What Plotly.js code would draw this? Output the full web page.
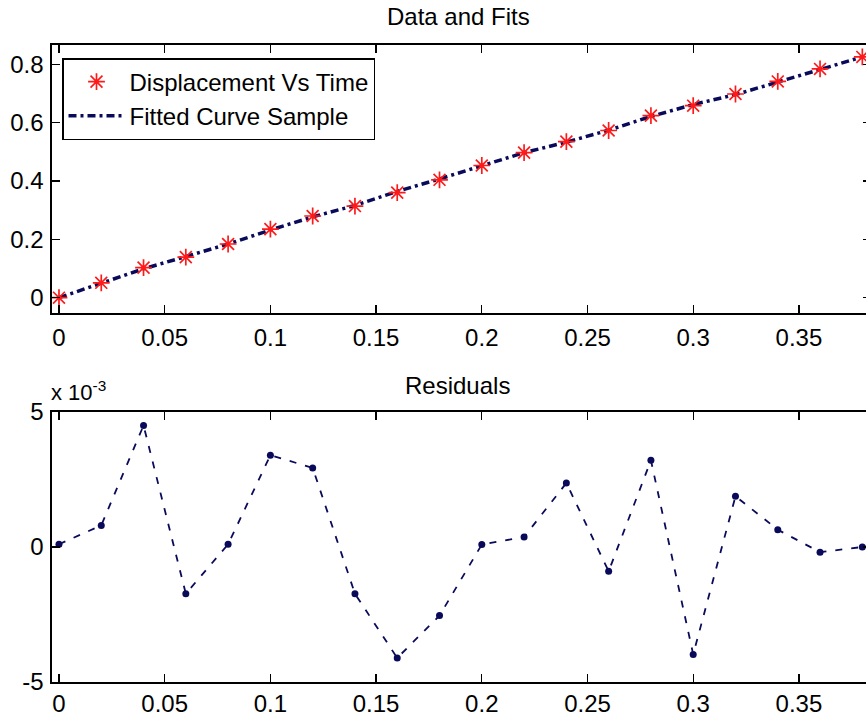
<!DOCTYPE html>
<html>
<head>
<meta charset="utf-8">
<script src="https://cdn.plot.ly/plotly-3.0.1.min.js"></script>
<style>
html,body{margin:0;padding:0;overflow:hidden;background:#fff;width:866px;height:716px;}
#chart{width:872px;height:716px;}
</style>
</head>
<body>
<div id="chart"></div>
<script>
// Data
const time = [0, 0.02, 0.04, 0.06, 0.08, 0.10, 0.12, 0.14, 0.16, 0.18, 0.20, 0.22, 0.24, 0.26, 0.28, 0.30, 0.32, 0.34, 0.36, 0.38];
const displacement = [0.000, 0.051, 0.103, 0.139, 0.184, 0.235, 0.280, 0.314, 0.360, 0.404, 0.453, 0.497, 0.535, 0.573, 0.624, 0.658, 0.698, 0.741, 0.784, 0.825];
const fittedCurve = [0.000, 0.050, 0.099, 0.141, 0.184, 0.232, 0.277, 0.316, 0.364, 0.407, 0.453, 0.497, 0.533, 0.574, 0.621, 0.662, 0.696, 0.740, 0.784, 0.825];
// residuals in units of 1e-3
const residualsE3 = [0.1, 0.80, 4.5, -1.73, 0.1, 3.40, 2.93, -1.73, -4.11, -2.54, 0.09, 0.37, 2.37, -0.90, 3.21, -3.98, 1.88, 0.64, -0.19, 0.0];

const xTicks = [0, 0.05, 0.1, 0.15, 0.2, 0.25, 0.3, 0.35];
const xTickText = ['0', '0.05', '0.1', '0.15', '0.2', '0.25', '0.3', '0.35'];
const yTopTicks = [0, 0.2, 0.4, 0.6, 0.8];
const yTopTickText = ['0', '0.2', '0.4', '0.6', '0.8'];
const yBotTicks = [-5, 0, 5];
const yBotTickText = ['-5', '0', '5'];

const navy = '#0a0a5a';
const red = '#ff1a1a';
const FONT = 'Liberation Sans, Arial, Helvetica, sans-serif';

const traces = [
  {
    x: time, y: fittedCurve, xaxis: 'x', yaxis: 'y',
    type: 'scatter', mode: 'lines', name: 'Fitted Curve Sample',
    line: {color: navy, width: 3.5, dash: '8px,4px,3px,4px'},
    legendrank: 2
  },
  {
    x: time, y: displacement, xaxis: 'x', yaxis: 'y',
    type: 'scatter', mode: 'markers', name: 'Displacement Vs Time',
    marker: {symbol: 'asterisk-open', size: 14, color: red, line: {color: red, width: 1.7}},
    legendrank: 1
  },
  {
    x: time, y: residualsE3, xaxis: 'x2', yaxis: 'y2',
    type: 'scatter', mode: 'lines+markers', name: 'Residuals',
    showlegend: false,
    line: {color: navy, width: 1.8, dash: '7px,9px'},
    marker: {symbol: 'circle', size: 7, color: navy}
  }
];

const axisCommon = {
  showline: true, linecolor: '#000', linewidth: 1.6, mirror: 'ticks',
  ticks: 'inside', ticklen: 8, tickwidth: 1.4, tickcolor: '#000',
  showgrid: false, zeroline: false,
  tickfont: {family: FONT, size: 24, color: '#000'}
};

const layout = {
  width: 872, height: 716, autosize: false,
  margin: {l: 0, r: 0, t: 0, b: 0},
  paper_bgcolor: '#fff', plot_bgcolor: '#fff',
  showlegend: true,
  legend: {
    x: 62/872, y: 1 - 58/716, xanchor: 'left', yanchor: 'top',
    bgcolor: '#fff', bordercolor: '#000', borderwidth: 1.5,
    font: {family: FONT, size: 24, color: '#000'},
    itemwidth: 56,
    traceorder: 'normal', tracegroupgap: 0
  },
  xaxis: Object.assign({}, axisCommon, {
    domain: [52/872, 871/872], range: [-0.0033, 0.3841], anchor: 'y',
    tickmode: 'array', tickvals: xTicks, ticktext: xTickText, ticklabelstandoff: 3
  }),
  yaxis: Object.assign({}, axisCommon, {
    domain: [1 - 313/716, 1 - 45/716], range: [-0.0525, 0.866], anchor: 'x',
    tickmode: 'array', tickvals: yTopTicks, ticktext: yTopTickText, ticklabelstandoff: 2
  }),
  xaxis2: Object.assign({}, axisCommon, {
    domain: [52/872, 871/872], range: [-0.0033, 0.3841], anchor: 'y2',
    tickmode: 'array', tickvals: xTicks, ticktext: xTickText, ticklabelstandoff: 0
  }),
  yaxis2: Object.assign({}, axisCommon, {
    domain: [1 - 682/716, 1 - 412/716], range: [-5, 5], anchor: 'x2',
    tickmode: 'array', tickvals: yBotTicks, ticktext: yBotTickText, ticklabelstandoff: 2
  }),
  annotations: [
    {text: 'Data and Fits', xref: 'paper', yref: 'paper', x: 458/872, y: 1 - 17/716,
     xanchor: 'center', yanchor: 'middle', showarrow: false,
     font: {family: FONT, size: 24, color: '#000'}},
    {text: 'Residuals', xref: 'paper', yref: 'paper', x: 457/872, y: 1 - 385/716,
     xanchor: 'center', yanchor: 'middle', showarrow: false,
     font: {family: FONT, size: 24, color: '#000'}},
    {text: 'x 10<sup>-3</sup>', xref: 'paper', yref: 'paper', x: 49/872, y: 1 - 391/716,
     xanchor: 'left', yanchor: 'middle', showarrow: false,
     font: {family: FONT, size: 22, color: '#000'}}
  ]
};

Plotly.newPlot('chart', traces, layout, {staticPlot: true, displayModeBar: false});
</script>
</body>
</html>
